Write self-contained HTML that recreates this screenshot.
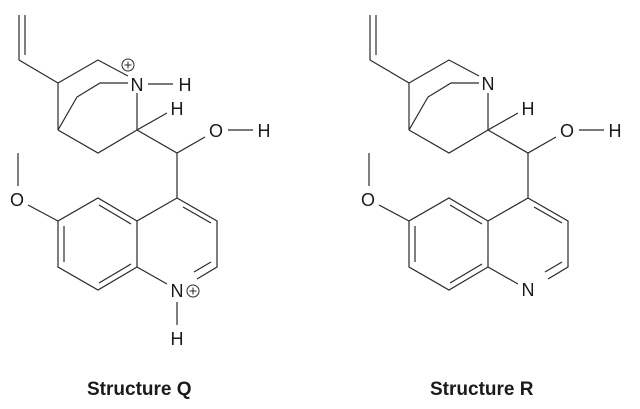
<!DOCTYPE html>
<html><head><meta charset="utf-8"><style>
html,body{margin:0;padding:0;background:#fff;}
svg{display:block;}
text{font-family:"Liberation Sans",sans-serif;fill:#1a1a1a;}
.a{font-size:18px;text-anchor:middle;}
.t{font-size:19px;font-weight:bold;}
line,polyline{stroke:#2a2a2a;stroke-width:1.2;fill:none;}
</style></head><body>
<svg width="640" height="409" viewBox="0 0 640 409" xmlns="http://www.w3.org/2000/svg">
<defs>
<g id="mol">
  <line x1="19" y1="15" x2="19" y2="60"/>
  <line x1="25" y1="15" x2="25" y2="55"/>
  <line x1="19" y1="60" x2="58" y2="83"/>
  <polyline points="58,83 98,60 128,76"/>
  <polyline points="128,83 100,83 77,97 58,130"/>
  <line x1="58" y1="83" x2="58" y2="130"/>
  <polyline points="58,130 98,153 137,130"/>
  <line x1="137" y1="93" x2="137" y2="130"/>
  <line x1="137" y1="130" x2="167" y2="113"/>
  <text class="a" x="177" y="115">H</text>
  <polyline points="137,130 177,153 205,137"/>
  <text class="a" x="216" y="137">O</text>
  <line x1="228" y1="130" x2="253" y2="130"/>
  <text class="a" x="264" y="137">H</text>
  <line x1="177" y1="153" x2="177" y2="198"/>
  <polyline points="177,198 137,221 137,267"/>
  <polyline points="177,198 217,221 217,267 197,279"/>
  <line x1="183" y1="207" x2="211" y2="223"/>
  <line x1="211" y1="262" x2="194" y2="272"/>
  <line x1="137" y1="267" x2="167" y2="284"/>
  <polyline points="137,221 98,198 58,221 58,267 98,290 137,267"/>
  <line x1="131" y1="224" x2="99" y2="205"/>
  <line x1="64" y1="226" x2="64" y2="262"/>
  <line x1="99" y1="283" x2="131" y2="264"/>
  <line x1="28" y1="205" x2="58" y2="221"/>
  <text class="a" x="17" y="206">O</text>
  <line x1="18" y1="153" x2="18" y2="186"/>
</g>
</defs>
<use href="#mol"/>
<use href="#mol" transform="translate(351,0)"/>
<text class="a" x="137" y="91">N</text>
<line x1="148" y1="84" x2="173" y2="84"/>
<text class="a" x="185" y="91">H</text>
<circle cx="128" cy="65" r="6" fill="none" stroke="#2a2a2a" stroke-width="1"/>
<line x1="124.5" y1="65" x2="131.5" y2="65" style="stroke-width:1"/>
<line x1="128" y1="61.5" x2="128" y2="68.5" style="stroke-width:1"/>
<text class="a" x="177" y="297">N</text>
<circle cx="193" cy="291" r="6" fill="none" stroke="#2a2a2a" stroke-width="1"/>
<line x1="189.5" y1="291" x2="196.5" y2="291" style="stroke-width:1"/>
<line x1="193" y1="287.5" x2="193" y2="294.5" style="stroke-width:1"/>
<line x1="177" y1="302" x2="177" y2="325"/>
<text class="a" x="177" y="345">H</text>
<text class="a" x="488" y="90">N</text>
<text class="a" x="528" y="296">N</text>
<text class="t" x="87" y="395">Structure Q</text>
<text class="t" x="430" y="395">Structure R</text>
</svg>
</body></html>
